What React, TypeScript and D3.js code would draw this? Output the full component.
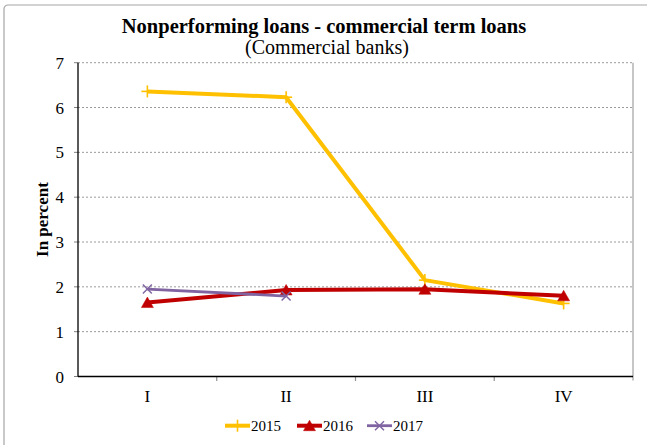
import React from "react";
import * as d3 from "d3";

const quarters = ["I", "II", "III", "IV"];
const series2015 = [6.36, 6.23, 2.15, 1.63];
const series2016 = [1.65, 1.93, 1.945, 1.8];
const series2017 = [1.95, 1.795];
const yTicks = [0, 1, 2, 3, 4, 5, 6, 7];
const seriesNames = ["2015", "2016", "2017"];
const seriesColors = ["#FFC000", "#C00000", "#8064A2"];

const W = 647;
const H = 445;
const FONT = "'Liberation Serif', 'Times New Roman', serif";

function Marker({ kind, x, y, color }: { kind: string; x: number; y: number; color: string }) {
  if (kind === "plus") {
    return (
      <g stroke={color} strokeWidth={1.6}>
        <line x1={x - 6} x2={x + 6} y1={y} y2={y} />
        <line x1={x} x2={x} y1={y - 6} y2={y + 6} />
      </g>
    );
  }
  if (kind === "tri") {
    const p = `${x},${y - 5.5} ${x + 6},${y + 5} ${x - 6},${y + 5}`;
    return <polygon points={p} fill={color} stroke={color} strokeWidth={0.5} />;
  }
  return (
    <g stroke={color} strokeWidth={1.5}>
      <line x1={x - 4.5} x2={x + 4.5} y1={y - 4.5} y2={y + 4.5} />
      <line x1={x - 4.5} x2={x + 4.5} y1={y + 4.5} y2={y - 4.5} />
    </g>
  );
}

export default function App() {
  const left = 78;
  const right = 633;
  const top = 62.7;
  const bottom = 376.5;
  const x = d3.scaleBand<string>().domain(quarters).range([left, right]);
  const y = d3.scaleLinear().domain([0, 7]).range([bottom, top]);
  const cx = (q: string) => (x(q) as number) + x.bandwidth() / 2;
  const line = d3
    .line<number>()
    .x((_, i) => cx(quarters[i]))
    .y((d) => y(d));

  const data = [series2015, series2016, series2017];
  const kinds = ["plus", "tri", "x"];
  const widths = [4, 4, 2.8];

  const legendX = [225, 297, 367];

  return (
    <svg
      width={W}
      height={H}
      style={{ position: "absolute", left: 0, top: 0, background: "#fff" }}
      fontFamily={FONT}
    >
      <rect x={0} y={0} width={W} height={H} fill="#fff" />
      <rect x={4} y={5} width={W + 20} height={H + 20} fill="none" stroke="#a6a6a6" strokeWidth={1.2} rx={4} />

      <text x={324} y={33} textAnchor="middle" fontWeight="bold" fontSize={20.5} fill="#000">
        Nonperforming loans - commercial term loans
      </text>
      <text x={327} y={54} textAnchor="middle" fontSize={20} fill="#000">
        (Commercial banks)
      </text>

      {/* gridlines */}
      {yTicks.filter((t) => t > 0).map((t) => (
        <line key={t} x1={left} x2={right} y1={y(t)} y2={y(t)} stroke="#9a9a9a" strokeWidth={1} strokeDasharray="2,2" />
      ))}
      {/* y tick marks */}
      {yTicks.map((t) => (
        <line key={"tm" + t} x1={left - 4} x2={left} y1={y(t)} y2={y(t)} stroke="#808080" strokeWidth={1} />
      ))}
      {/* right border */}
      <line x1={right} x2={right} y1={top} y2={bottom + 4} stroke="#a0a0a0" strokeWidth={1.2} />
      {/* x ticks */}
      {quarters.slice(1).map((q) => (
        <line key={"xt" + q} x1={x(q) as number} x2={x(q) as number} y1={bottom} y2={bottom + 4.5} stroke="#909090" strokeWidth={1.2} />
      ))}
      {/* axes */}
      <line x1={left} x2={left} y1={top} y2={bottom} stroke="#000" strokeWidth={1.3} />
      <line x1={left} x2={right} y1={bottom} y2={bottom} stroke="#000" strokeWidth={1.5} />

      {/* y tick labels */}
      {yTicks.map((t) => (
        <text key={"yl" + t} x={64} y={y(t) + 6} textAnchor="end" fontSize={17} fill="#000">
          {t}
        </text>
      ))}
      {/* x tick labels */}
      {quarters.map((q) => (
        <text key={"xl" + q} x={cx(q)} y={401.5} textAnchor="middle" fontSize={17} fill="#000">
          {q}
        </text>
      ))}

      <text
        transform={`translate(48,${(top + bottom) / 2}) rotate(-90)`}
        textAnchor="middle"
        fontWeight="bold"
        fontSize={17}
        fill="#000"
      >
        In percent
      </text>

      {/* series */}
      {data.map((vals, si) => (
        <g key={"s" + si}>
          <path d={line(vals) || ""} fill="none" stroke={seriesColors[si]} strokeWidth={widths[si]} strokeLinejoin="round" />
          {vals.map((v, i) => (
            <Marker key={i} kind={kinds[si]} x={cx(quarters[i])} y={y(v)} color={seriesColors[si]} />
          ))}
        </g>
      ))}

      {/* legend */}
      {seriesNames.map((name, i) => (
        <g key={"lg" + name}>
          <line x1={legendX[i]} x2={legendX[i] + 25} y1={425.7} y2={425.7} stroke={seriesColors[i]} strokeWidth={widths[i]} />
          <Marker kind={kinds[i]} x={legendX[i] + 12.5} y={425.7} color={seriesColors[i]} />
          <text x={legendX[i] + 26} y={431} fontSize={15} fill="#000">
            {name}
          </text>
        </g>
      ))}
    </svg>
  );
}
